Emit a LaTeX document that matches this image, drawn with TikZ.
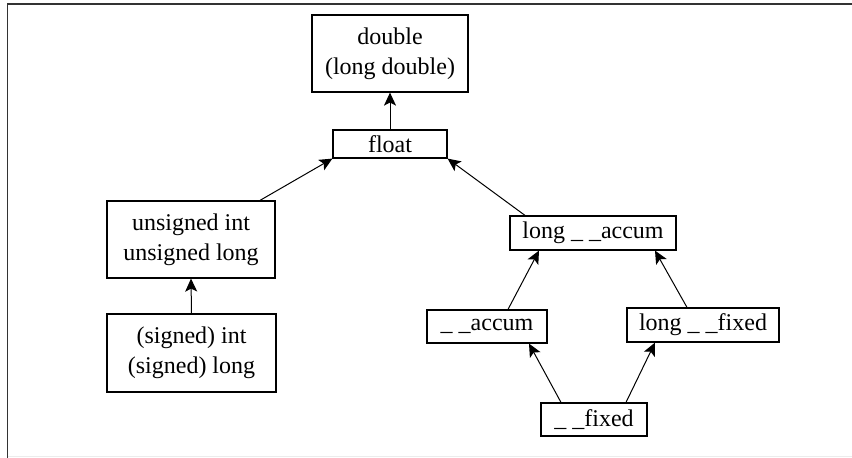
\documentclass[tikz,border=0pt]{standalone}
\usepackage{fontspec}
\setmainfont{Liberation Serif}
\usepackage{tikz}
\usetikzlibrary{arrows.meta, calc}

\begin{document}
\begin{tikzpicture}[x=0.5pt, y=-0.5pt,
    typebox/.style={draw, line width=0.6pt, align=center, inner sep=0pt,
      font=\fontsize{12}{15}\selectfont},
    promote/.style={-{Stealth[length=6.5pt, width=6pt, inset=1.5pt]}, line width=0.5pt}]
  \useasboundingbox (0,0) rectangle (852,458);

  % Frame
  \draw[gray!15, line width=0.5pt] (8,456.5) -- (852,456.5);
  \draw[line width=0.7pt, black!80] (7.5,458) -- (7.5,4) -- (852,4);

  % Floating types
  \node[typebox, minimum width=78pt, minimum height=38.5pt] (dbl) at (390,53.5)
    {double\\(long double)};
  \node[typebox, minimum width=57pt, minimum height=14pt] (flt) at (390,144) {float};

  % Integer types
  \node[typebox, minimum width=84pt, minimum height=38.5pt] (uns) at (191,239.5)
    {unsigned int\\unsigned long};
  \node[typebox, minimum width=84.5pt, minimum height=39pt] (sgn) at (191.5,353)
    {(signed) int\\(signed) long};

  % Fixed-point types
  \node[typebox, minimum width=83pt, minimum height=17pt] (lacc) at (593,233) {long \_ \_accum};
  \node[typebox, minimum width=60pt, minimum height=16.5pt] (acc) at (487,326.5) {\_ \_accum};
  \node[typebox, minimum width=76pt, minimum height=17pt] (lfix) at (703,325) {long \_ \_fixed};
  \node[typebox, minimum width=53pt, minimum height=16.5pt] (fix) at (594,419.5) {\_ \_fixed};

  % Promotions
  \draw[promote] (flt.north) -- (dbl.south);
  \draw[promote] (sgn.north) -- (uns.south);
  \draw[promote] ($(uns.north)+(69,0)$) -- (flt.south west);
  \draw[promote] ($(lacc.north)+(-68,0)$) -- (flt.south east);
  \draw[promote] ($(acc.north)+(21,0)$) -- ($(lacc.south)+(-54,0)$);
  \draw[promote] ($(lfix.north)+(-16,0)$) -- ($(lacc.south)+(62,0)$);
  \draw[promote] ($(fix.north)+(-33,0)$) -- ($(acc.south)+(42,0)$);
  \draw[promote] ($(fix.north)+(32,0)$) -- ($(lfix.south)+(-48,0)$);
\end{tikzpicture}
\end{document}
